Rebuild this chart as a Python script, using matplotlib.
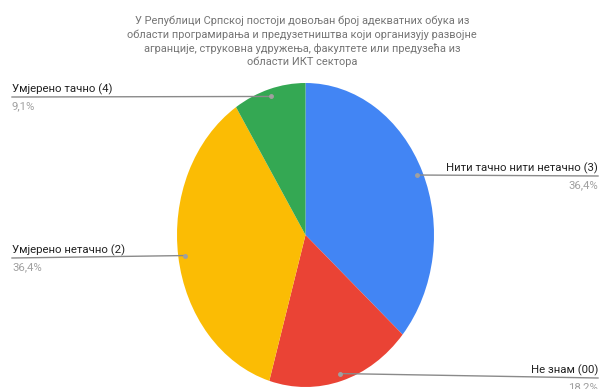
import numpy as np
import matplotlib
matplotlib.use("Agg")
import matplotlib.pyplot as plt
from matplotlib.lines import Line2D

title_lines = [
    "У Републици Српској постоји довољан број адекватних обука из",
    "области програмирања и предузетништва који организују развојне",
    "агранције, струковна удружења, факултете или предузећа из",
    "области ИКТ сектора",
]
categories = ["Нити тачно нити нетачно (3)", "Не знам (00)",
              "Умјерено нетачно (2)", "Умјерено тачно (4)"]
counts = [4, 2, 4, 1]
pct_labels = ["36,4%", "18,2%", "36,4%", "9,1%"]
colors = ["#4285F4", "#EA4335", "#FBBC04", "#34A853"]

W, H = 602, 389
plt.rcParams['font.family'] = ['Roboto', 'DejaVu Sans']
fig = plt.figure(figsize=(W / 100, H / 100), dpi=100)

def fx(x):
    return x / W

def fy(y):
    return 1 - y / H

# pie axes (stretched ellipse)
left, right, top, bottom = 177, 434, 83, 387
ax = fig.add_axes([fx(left), fy(bottom), (right - left) / W, (bottom - top) / H])
wedges, _ = ax.pie(counts, colors=colors, startangle=90, counterclock=False,
                   radius=1.0, wedgeprops=dict(linewidth=0))
ax.set_xlim(-1, 1)
ax.set_ylim(-1, 1)
ax.set_aspect('auto')
ax.axis('off')

# title
title_y = [21, 35, 48.5, 62]
for line, y in zip(title_lines, title_y):
    fig.text(fx(302), fy(y), line, ha='center', va='center', fontsize=7.9,
             color='#757575')

# labels with leader lines
label_side = ['right', 'right', 'left', 'left']
line_y = [176, 378, 258, 97]
fig.canvas.draw()
for w, cat, pct, side, ly in zip(wedges, categories, pct_labels, label_side, line_y):
    mid = np.deg2rad((w.theta1 + w.theta2) / 2)
    dx, dy = 0.95 * np.cos(mid), 0.95 * np.sin(mid)
    disp = ax.transData.transform((dx, dy))
    fxp, fyp = disp[0] / fig.bbox.width, disp[1] / fig.bbox.height
    if side == 'right':
        xend = fx(598)
        tx, ha = fx(598), 'right'
    else:
        xend = fx(12)
        tx, ha = fx(12), 'left'
    fig.add_artist(Line2D([fxp, xend], [fyp, fy(ly)], color='#8a8a8a', lw=1.0))
    fig.add_artist(Line2D([fxp], [fyp], marker='o', ms=2.5, color='#a0a0a0', lw=0))
    fig.text(tx, fy(ly - 8), cat, ha=ha, va='center', fontsize=8.2, color='#222222')
    fig.text(tx, fy(ly + 9), pct, ha=ha, va='center', fontsize=8.2, color='#a0a0a0')

fig.savefig("out.png", dpi=100, facecolor='white')
